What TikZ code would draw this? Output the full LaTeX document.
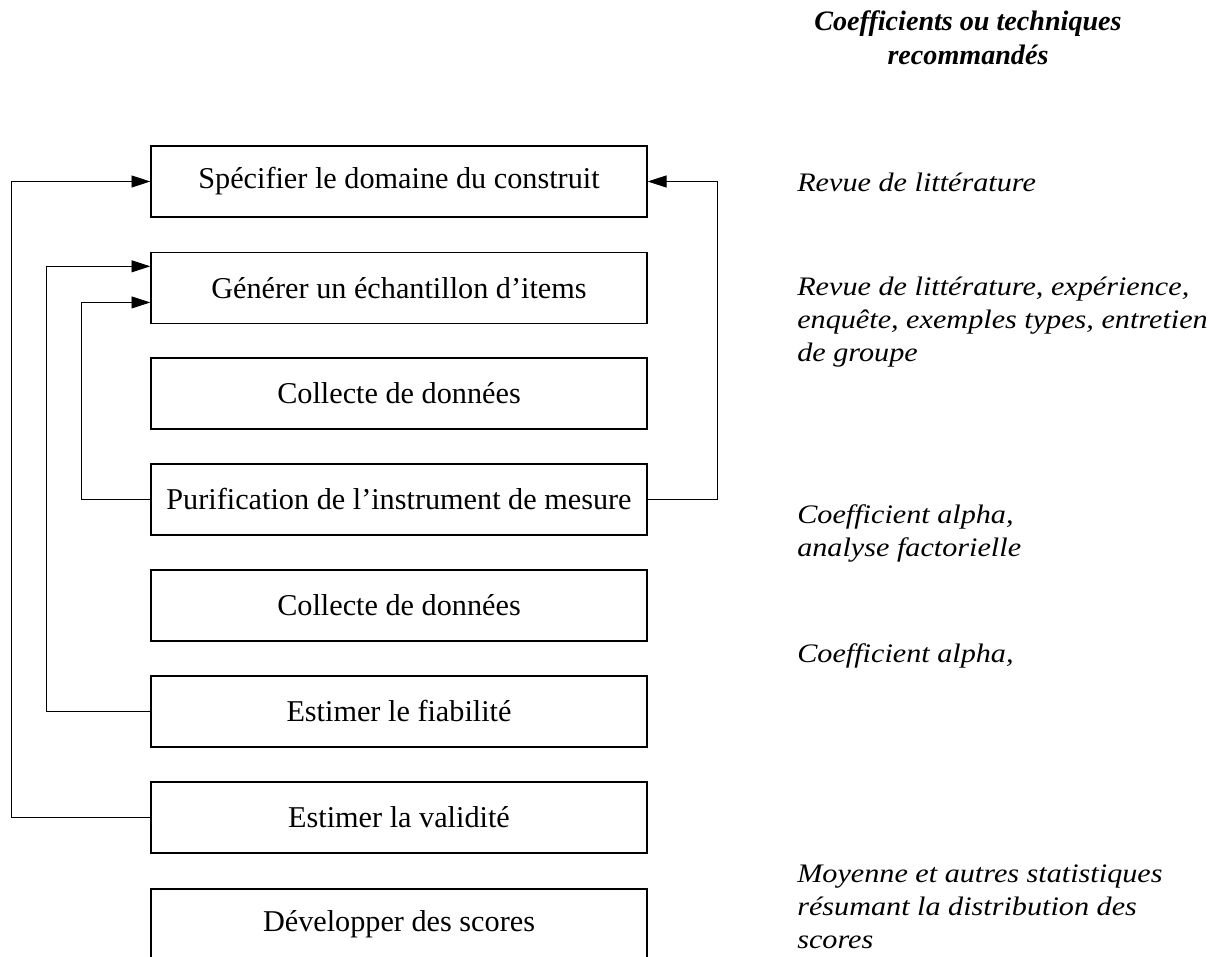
\documentclass[tikz,border=0pt]{standalone}
\usepackage{fontspec}
\setmainfont{Liberation Serif}
\newfontfamily\notefont{Liberation Serif}[FakeStretch=1.13]
\usetikzlibrary{arrows.meta,calc}

\newcommand\boxfont{\fontsize{21.5}{25}\selectfont}
\newcommand\notesize{\fontsize{19}{23.5}\selectfont}

\tikzset{
  stepbox/.style={draw,line width=0.9pt,minimum width=12.4cm,minimum height=1.775cm,inner sep=0pt,font=\boxfont},
  note/.style={anchor=west,align=left,inner sep=0pt,font=\notesize\notefont\itshape},
  back/.style={line width=0.6pt,-{Triangle[length=0.47cm,width=0.3cm]}}
}

\begin{document}
\begin{tikzpicture}[x=0.025cm,y=-0.025cm]
  \useasboundingbox (0,0) rectangle (1217,957);

  \node[align=center,font=\fontsize{20}{24.5}\selectfont\bfseries\itshape] (head) at (968,38) {Coefficients ou techniques\\recommandés};

  \node[stepbox] (spec) at (399,181.5) {Spécifier le domaine du construit};
  \node[stepbox] (gen) at (399,288) {Générer un échantillon d’items};
  \node[stepbox] (coll1) at (399,393.5) {Collecte de données};
  \node[stepbox] (pur) at (399,499.5) {Purification de l’instrument de mesure};
  \node[stepbox] (coll2) at (399,605.5) {Collecte de données};
  \node[stepbox] (fiab) at (399,711.5) {Estimer le fiabilité};
  \node[stepbox] (valid) at (399,817.5) {Estimer la validité};
  \node[stepbox] (score) at (399,924.5) {Développer des scores};

  \node[note] (n1) at (797,182) {Revue de littérature};
  \node[note] (n2) at (797,322) {Revue de littérature, expérience,\\enquête, exemples types, entretien\\de groupe};
  \node[note] (n3) at (797,533) {Coefficient alpha,\\analyse factorielle};
  \node[note] (n4) at (797,656) {Coefficient alpha,};
  \node[note] (n5) at (797,907) {Moyenne et autres statistiques\\résumant la distribution des\\scores};

  \coordinate (railA) at (11,0);
  \coordinate (railB) at (46,0);
  \coordinate (railC) at (81,0);
  \coordinate (railD) at (717,0);
  \coordinate (genA) at ($(gen.north west)!0.2!(gen.south west)$);
  \coordinate (genB) at ($(gen.north west)!0.7!(gen.south west)$);

  \draw[back] (valid.west) -- (valid.west -| railA) |- (spec.west);
  \draw[back] (fiab.west) -- (fiab.west -| railB) |- (genA);
  \draw[back] (pur.west) -- (pur.west -| railC) |- (genB);
  \draw[back] (pur.east) -- (pur.east -| railD) |- (spec.east);
\end{tikzpicture}
\end{document}
